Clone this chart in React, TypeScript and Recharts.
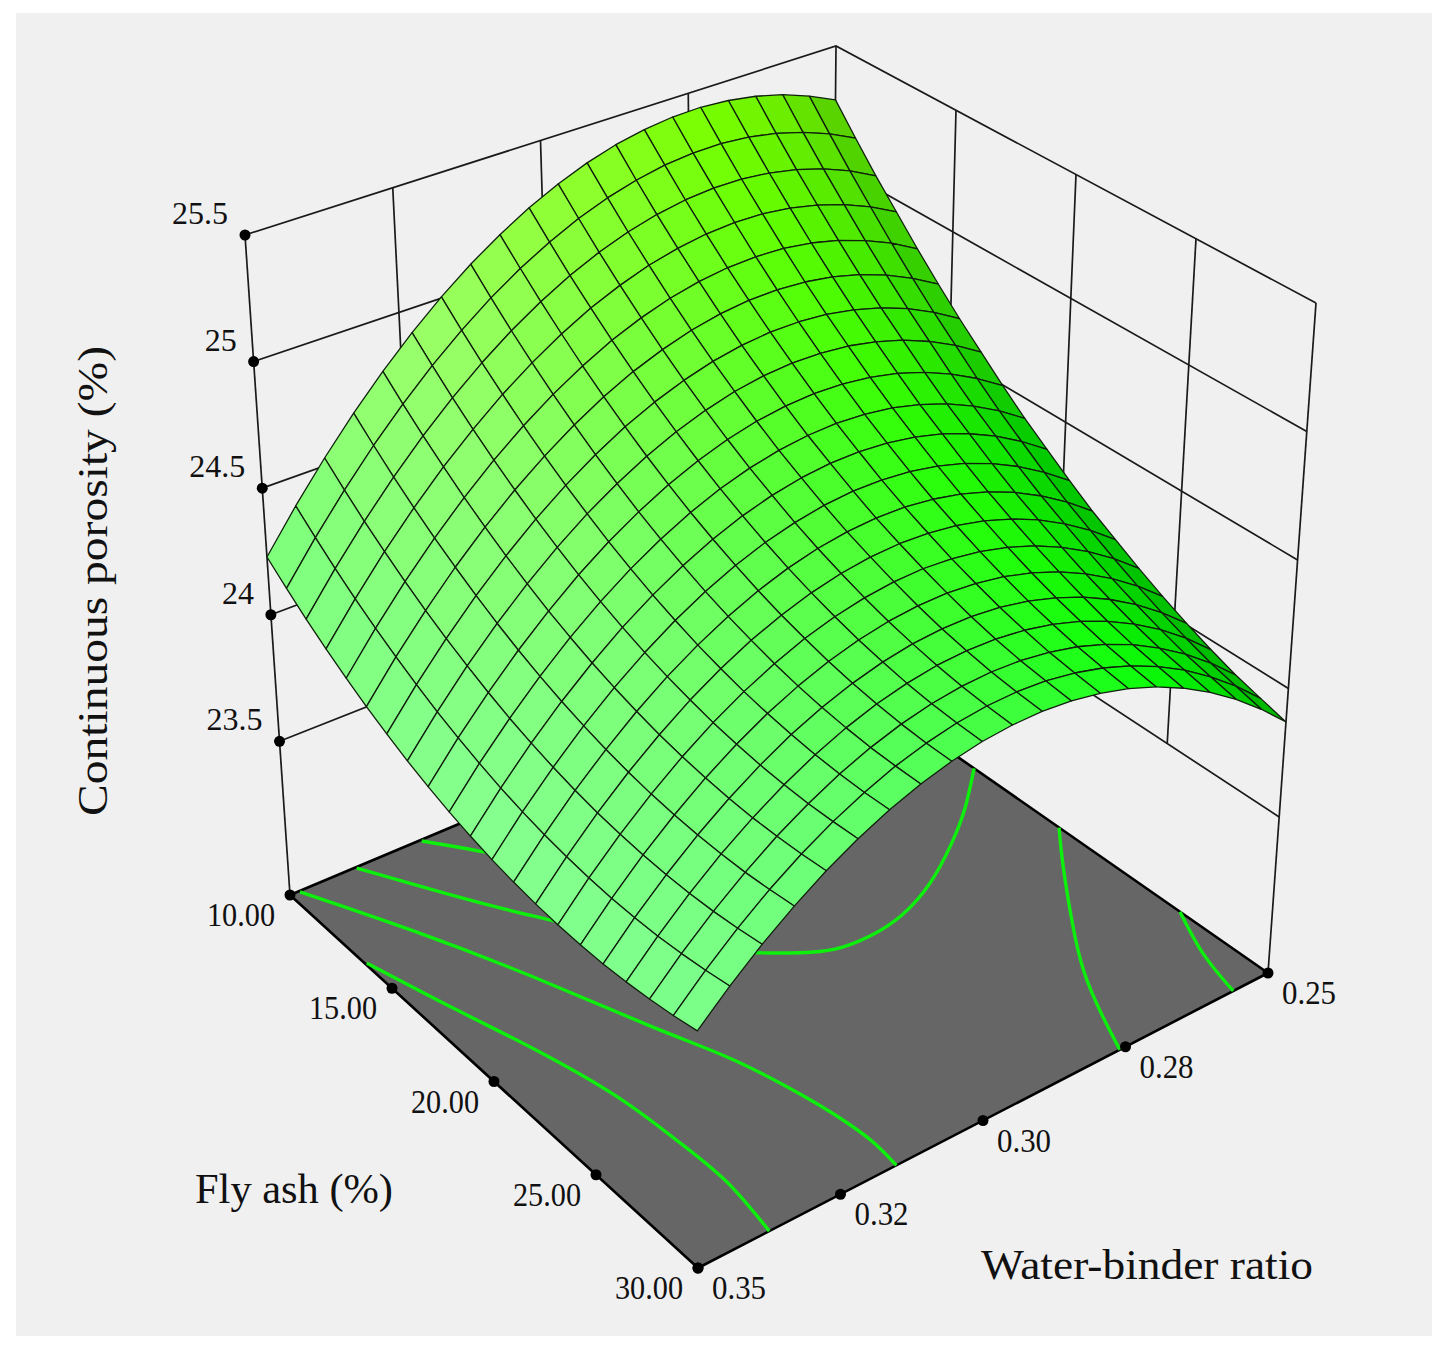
import React from "react";
import { ScatterChart, Scatter, XAxis, YAxis } from "recharts";

const W = 1446;
const H = 1351;

// mesh lines (they bunch up towards the back corner)
const flyAsh = [
  10, 10.86, 11.73, 12.62, 13.53, 14.45, 15.38, 16.33, 17.29, 18.27, 19.26, 20.27, 21.29, 22.33, 23.38, 24.45, 25.53,
  26.62, 27.73, 28.86, 30,
];
const waterBinder = [
  0.35, 0.34448, 0.33901, 0.3336, 0.32824, 0.32294, 0.31769, 0.3125, 0.30736, 0.30228, 0.29725, 0.29228, 0.28736,
  0.2825, 0.27769, 0.27294, 0.26824, 0.2636, 0.25901, 0.25448, 0.25,
];

// continuous porosity (%), one row per fly ash line, one column per water-binder line
const porosity = [
  [24.228, 24.385, 24.531, 24.666, 24.79, 24.903, 25.005, 25.096, 25.175, 25.244, 25.302, 25.349, 25.385, 25.409, 25.423, 25.426, 25.417, 25.398, 25.368, 25.326, 25.274],
  [24.164, 24.318, 24.461, 24.594, 24.715, 24.826, 24.925, 25.014, 25.091, 25.157, 25.213, 25.257, 25.29, 25.313, 25.324, 25.325, 25.314, 25.292, 25.259, 25.216, 25.161],
  [24.103, 24.255, 24.396, 24.526, 24.645, 24.753, 24.85, 24.936, 25.011, 25.075, 25.128, 25.17, 25.201, 25.221, 25.23, 25.228, 25.215, 25.191, 25.156, 25.11, 25.052],
  [24.048, 24.197, 24.336, 24.463, 24.58, 24.685, 24.78, 24.863, 24.936, 24.998, 25.048, 25.088, 25.116, 25.134, 25.141, 25.137, 25.121, 25.095, 25.058, 25.01, 24.951],
  [23.996, 24.143, 24.279, 24.404, 24.518, 24.621, 24.713, 24.794, 24.864, 24.924, 24.972, 25.009, 25.035, 25.05, 25.054, 25.048, 25.03, 25.001, 24.961, 24.911, 24.849],
  [23.949, 24.094, 24.227, 24.35, 24.461, 24.562, 24.651, 24.73, 24.798, 24.855, 24.9, 24.935, 24.959, 24.972, 24.973, 24.964, 24.944, 24.913, 24.871, 24.818, 24.754],
  [23.907, 24.049, 24.18, 24.3, 24.409, 24.507, 24.594, 24.67, 24.736, 24.79, 24.833, 24.866, 24.887, 24.898, 24.897, 24.886, 24.863, 24.83, 24.786, 24.73, 24.664],
  [23.868, 24.008, 24.137, 24.254, 24.361, 24.457, 24.542, 24.615, 24.678, 24.73, 24.771, 24.802, 24.821, 24.829, 24.826, 24.813, 24.788, 24.753, 24.706, 24.649, 24.58],
  [23.835, 23.972, 24.098, 24.213, 24.317, 24.411, 24.493, 24.564, 24.625, 24.674, 24.713, 24.741, 24.757, 24.763, 24.758, 24.742, 24.715, 24.677, 24.628, 24.568, 24.497],
  [23.805, 23.94, 24.063, 24.176, 24.278, 24.369, 24.449, 24.518, 24.576, 24.623, 24.659, 24.684, 24.698, 24.702, 24.694, 24.676, 24.646, 24.606, 24.554, 24.492, 24.419],
  [23.78, 23.912, 24.034, 24.144, 24.243, 24.332, 24.409, 24.476, 24.532, 24.577, 24.611, 24.634, 24.646, 24.647, 24.637, 24.616, 24.585, 24.542, 24.489, 24.424, 24.349],
  [23.759, 23.889, 24.008, 24.116, 24.213, 24.299, 24.374, 24.438, 24.492, 24.534, 24.565, 24.586, 24.596, 24.594, 24.582, 24.559, 24.525, 24.48, 24.424, 24.357, 24.28],
  [23.743, 23.87, 23.987, 24.092, 24.187, 24.271, 24.343, 24.405, 24.456, 24.496, 24.525, 24.543, 24.55, 24.547, 24.532, 24.507, 24.47, 24.423, 24.364, 24.295, 24.215],
  [23.731, 23.856, 23.97, 24.073, 24.165, 24.247, 24.317, 24.377, 24.425, 24.463, 24.49, 24.506, 24.511, 24.505, 24.488, 24.461, 24.422, 24.373, 24.312, 24.241, 24.159],
  [23.723, 23.846, 23.958, 24.058, 24.148, 24.227, 24.295, 24.352, 24.399, 24.434, 24.458, 24.472, 24.475, 24.466, 24.447, 24.417, 24.376, 24.324, 24.261, 24.188, 24.103],
  [23.72, 23.84, 23.95, 24.048, 24.136, 24.212, 24.278, 24.332, 24.376, 24.409, 24.431, 24.442, 24.443, 24.432, 24.411, 24.378, 24.335, 24.28, 24.215, 24.139, 24.052],
  [23.721, 23.839, 23.946, 24.042, 24.127, 24.201, 24.265, 24.317, 24.358, 24.389, 24.409, 24.417, 24.415, 24.402, 24.378, 24.343, 24.298, 24.241, 24.174, 24.095, 24.006],
  [23.727, 23.842, 23.947, 24.041, 24.123, 24.195, 24.256, 24.306, 24.345, 24.373, 24.391, 24.397, 24.392, 24.377, 24.351, 24.314, 24.265, 24.206, 24.137, 24.056, 23.964],
  [23.737, 23.85, 23.952, 24.043, 24.124, 24.193, 24.252, 24.299, 24.336, 24.362, 24.377, 24.381, 24.374, 24.356, 24.328, 24.288, 24.238, 24.176, 24.104, 24.021, 23.927],
  [23.751, 23.862, 23.962, 24.051, 24.129, 24.196, 24.252, 24.298, 24.332, 24.356, 24.369, 24.371, 24.362, 24.342, 24.311, 24.269, 24.217, 24.154, 24.079, 23.994, 23.898],
  [23.77, 23.878, 23.976, 24.062, 24.138, 24.203, 24.257, 24.3, 24.332, 24.354, 24.364, 24.364, 24.352, 24.33, 24.297, 24.253, 24.198, 24.132, 24.056, 23.968, 23.87],
];

// floor contours as [fly ash, water-binder]
const contourA = [[10.05, 0.3258], [11.46, 0.3197], [12.11, 0.3174]];
const contourB = [[10.04, 0.3378], [12.06, 0.3314], [13.71, 0.3261], [15.18, 0.3211], [16.12, 0.3181]];
const contourC = [[10.04, 0.3483], [13.36, 0.3393], [16.98, 0.3312], [20.76, 0.3241], [23.33, 0.3193], [25.72, 0.3164], [27.09, 0.3153], [28.61, 0.3147], [30, 0.3152]];
const contourD = [[13.69, 0.3497], [16.84, 0.345], [19.58, 0.3409], [22.54, 0.3376], [25.04, 0.3364], [27.47, 0.336], [30, 0.3375]];
const contourE = [[16.58, 0.25], [17.98, 0.2572], [19.13, 0.2642], [20.25, 0.2724], [20.96, 0.2802], [21.18, 0.2868], [21.05, 0.2926], [20.57, 0.297], [19.81, 0.3019], [19.07, 0.3058]];
const contourF = [[20.46, 0.25], [21.99, 0.2553], [24.34, 0.2628], [26.45, 0.2688], [28.38, 0.273], [30, 0.276]];
const contourG = [[25.98, 0.25], [28.03, 0.2538], [30, 0.2561]];
const contours = [contourA, contourB, contourC, contourD, contourE, contourF, contourG];

const zTicks = [25.5, 25, 24.5, 24, 23.5];
const zTickLabels = ["25.5", "25", "24.5", "24", "23.5"];
const flyTicks = [10, 15, 20, 25, 30];
const flyTickLabels = ["10.00", "15.00", "20.00", "25.00", "30.00"];
const wbTicks = [0.35, 0.325, 0.3, 0.275, 0.25];
const wbTickLabels = ["0.35", "0.32", "0.30", "0.28", "0.25"];

const zFloor = 22.893;
const zTop = 25.5;
const zLowest = 23.5;

// box corners on the page: (fa10,wb.35) (fa30,wb.35) (fa30,wb.25) (fa10,wb.25)
const floorBox = [[290, 895], [698, 1268], [1268, 973], [830, 668]];
const topBox = [[245, 235], [696, 563], [1316, 303], [836, 46]];

const bilin = (box: number[][], u: number, v: number, k: number) =>
  box[0][k] * (1 - u) * (1 - v) + box[1][k] * u * (1 - v) + box[2][k] * u * v + box[3][k] * (1 - u) * v;

function project(fa: number, wb: number, z: number) {
  const u = (fa - 10) / 20;
  const v = (0.35 - wb) / 0.1;
  const w = (z - zFloor) / (zTop - zFloor);
  return {
    x: bilin(floorBox, u, v, 0) * (1 - w) + bilin(topBox, u, v, 0) * w,
    y: bilin(floorBox, u, v, 1) * (1 - w) + bilin(topBox, u, v, 1) * w,
  };
}

// colour of the mesh, sampled at three fly ash positions and these water-binder positions
const shadeStops = [0, 0.25, 0.5, 0.75, 0.9, 1];
const shadeRows = [
  [[125, 255, 125], [155, 255, 105], [145, 255, 50], [125, 255, 0], [110, 235, 0], [90, 205, 0]],
  [[135, 255, 145], [125, 255, 115], [90, 255, 60], [45, 255, 5], [15, 225, 0], [0, 195, 0]],
  [[125, 255, 140], [100, 255, 110], [65, 255, 65], [10, 255, 10], [0, 215, 0], [0, 175, 0]],
];

function cellColor(u: number, v: number) {
  const a = Math.min(u * 2, 1.999);
  const i = Math.floor(a);
  const s = a - i;
  let j = 0;
  while (j < shadeStops.length - 2 && v > shadeStops[j + 1]) j++;
  const t = (v - shadeStops[j]) / (shadeStops[j + 1] - shadeStops[j]);
  const rgb = [0, 1, 2].map((k) =>
    Math.round(
      shadeRows[i][j][k] * (1 - s) * (1 - t) +
        shadeRows[i + 1][j][k] * s * (1 - t) +
        shadeRows[i][j + 1][k] * (1 - s) * t +
        shadeRows[i + 1][j + 1][k] * s * t
    )
  );
  return `rgb(${rgb.join(",")})`;
}

function buildCells() {
  const cells: any[] = [];
  for (let i = 0; i < flyAsh.length - 1; i++) {
    for (let j = waterBinder.length - 2; j >= 0; j--) {
      const corners = [
        project(flyAsh[i], waterBinder[j], porosity[i][j]),
        project(flyAsh[i + 1], waterBinder[j], porosity[i + 1][j]),
        project(flyAsh[i + 1], waterBinder[j + 1], porosity[i + 1][j + 1]),
        project(flyAsh[i], waterBinder[j + 1], porosity[i][j + 1]),
      ];
      cells.push({
        x: corners[0].x,
        y: corners[0].y,
        corners,
        color: cellColor((i + 0.5) / 20, (j + 0.5) / 20),
      });
    }
  }
  return cells;
}

const PolyShape = (props: any) => {
  const { cx, cy, payload, stroke, strokeWidth } = props;
  const pts = payload.corners.map((c: any) => `${cx + c.x - payload.x},${cy + c.y - payload.y}`).join(" ");
  return <polygon points={pts} fill={payload.color} stroke={stroke} strokeWidth={strokeWidth} strokeLinejoin="round" />;
};

const Nothing = () => <g />;
const Dot = (props: any) => <circle cx={props.cx} cy={props.cy} r={5.5} fill="#000" />;

const TickText = (props: any) => {
  const { cx, cy, payload } = props;
  return (
    <text
      x={cx + payload.dx}
      y={cy + payload.dy}
      textAnchor={payload.anchor}
      fontFamily="'Liberation Serif', serif"
      fontSize={payload.size}
      fill="#111"
      textLength={payload.len}
      lengthAdjust="spacingAndGlyphs"
      transform={payload.rotate ? `rotate(-90 ${cx} ${cy})` : undefined}
    >
      {payload.text}
    </text>
  );
};

const floorZ = zFloor;
const wbEnds = [0.35, 0.25];
const flyEnds = [10, 30];

const wallLines: { x: number; y: number }[][] = [
  // box edges
  [project(10, 0.35, floorZ), project(10, 0.35, zTop)],
  [project(10, 0.25, floorZ), project(10, 0.25, zTop)],
  [project(30, 0.25, floorZ), project(30, 0.25, zTop)],
  [project(10, 0.35, zTop), project(10, 0.25, zTop), project(30, 0.25, zTop)],
  // verticals on the two back walls stop at the lowest level line
  ...wbTicks.slice(1, 4).map((wb) => [project(10, wb, zLowest), project(10, wb, zTop)]),
  ...flyTicks.slice(1, 4).map((fa) => [project(fa, 0.25, zLowest), project(fa, 0.25, zTop)]),
  // level lines round the back walls
  ...zTicks.slice(1).map((z) => [project(10, 0.35, z), project(10, 0.25, z), project(30, 0.25, z)]),
];

const floorShape = [
  {
    ...project(flyEnds[0], wbEnds[0], floorZ),
    corners: [
      project(flyEnds[0], wbEnds[0], floorZ),
      project(flyEnds[1], wbEnds[0], floorZ),
      project(flyEnds[1], wbEnds[1], floorZ),
      project(flyEnds[0], wbEnds[1], floorZ),
    ],
    color: "#666666",
  },
];

const dots = [
  ...zTicks.map((z) => project(10, 0.35, z)),
  ...flyTicks.map((fa) => project(fa, 0.35, floorZ)),
  ...wbTicks.map((wb) => project(30, wb, floorZ)),
];

const labels = [
  ...zTicks.map((z, i) => ({
    ...project(10, 0.35, z),
    text: zTickLabels[i],
    dx: -17,
    dy: -11,
    anchor: "end",
    size: 32,
  })),
  ...flyTicks.map((fa, i) => ({
    ...project(fa, 0.35, floorZ),
    text: flyTickLabels[i],
    dx: -49,
    dy: 31,
    anchor: "middle",
    size: 33,
    len: 68,
  })),
  ...wbTicks.map((wb, i) => ({
    ...project(30, wb, floorZ),
    text: wbTickLabels[i],
    dx: 41,
    dy: 31,
    anchor: "middle",
    size: 33,
    len: 54,
  })),
];

const titles = [
  { x: 107, y: 581, text: "Continuous porosity (%)", dx: 0, dy: 0, anchor: "middle", size: 42, len: 470, rotate: true },
  { x: 294, y: 1203, text: "Fly ash (%)", dx: 0, dy: 0, anchor: "middle", size: 42, len: 198 },
  { x: 1147, y: 1279, text: "Water-binder ratio", dx: 0, dy: 0, anchor: "middle", size: 42, len: 332 },
];

const surfaceCells = buildCells();

export default function App() {
  return (
    <div style={{ position: "absolute", left: 0, top: 0, width: W, height: H, background: "#fff" }}>
      <div style={{ position: "absolute", left: 16, top: 13, width: 1416, height: 1323, background: "#f0f0f0" }} />
      <div style={{ position: "absolute", left: 0, top: 0 }}>
        <ScatterChart width={W} height={H} margin={{ top: 0, right: 0, bottom: 0, left: 0 }}>
          <XAxis type="number" dataKey="x" domain={[0, W]} hide />
          <YAxis type="number" dataKey="y" domain={[0, H]} reversed hide />
          {wallLines.map((line, i) => (
            <Scatter
              key={`wall${i}`}
              data={line}
              line={{ stroke: "#1a1a1a", strokeWidth: 1.7 }}
              shape={Nothing}
              isAnimationActive={false}
            />
          ))}
          <Scatter data={floorShape} shape={PolyShape} stroke="#000" strokeWidth={2.6} isAnimationActive={false} />
          {contours.map((c, i) => (
            <Scatter
              key={`contour${i}`}
              data={c.map(([fa, wb]) => project(fa, wb, floorZ))}
              line={{ stroke: "#0cf00c", strokeWidth: 3.4 }}
              lineJointType="natural"
              shape={Nothing}
              isAnimationActive={false}
            />
          ))}
          <Scatter data={dots} shape={Dot} isAnimationActive={false} />
          <Scatter data={surfaceCells} shape={PolyShape} stroke="#10200c" strokeWidth={1.3} isAnimationActive={false} />
          <Scatter data={labels} shape={TickText} isAnimationActive={false} />
          <Scatter data={titles} shape={TickText} isAnimationActive={false} />
        </ScatterChart>
      </div>
    </div>
  );
}
